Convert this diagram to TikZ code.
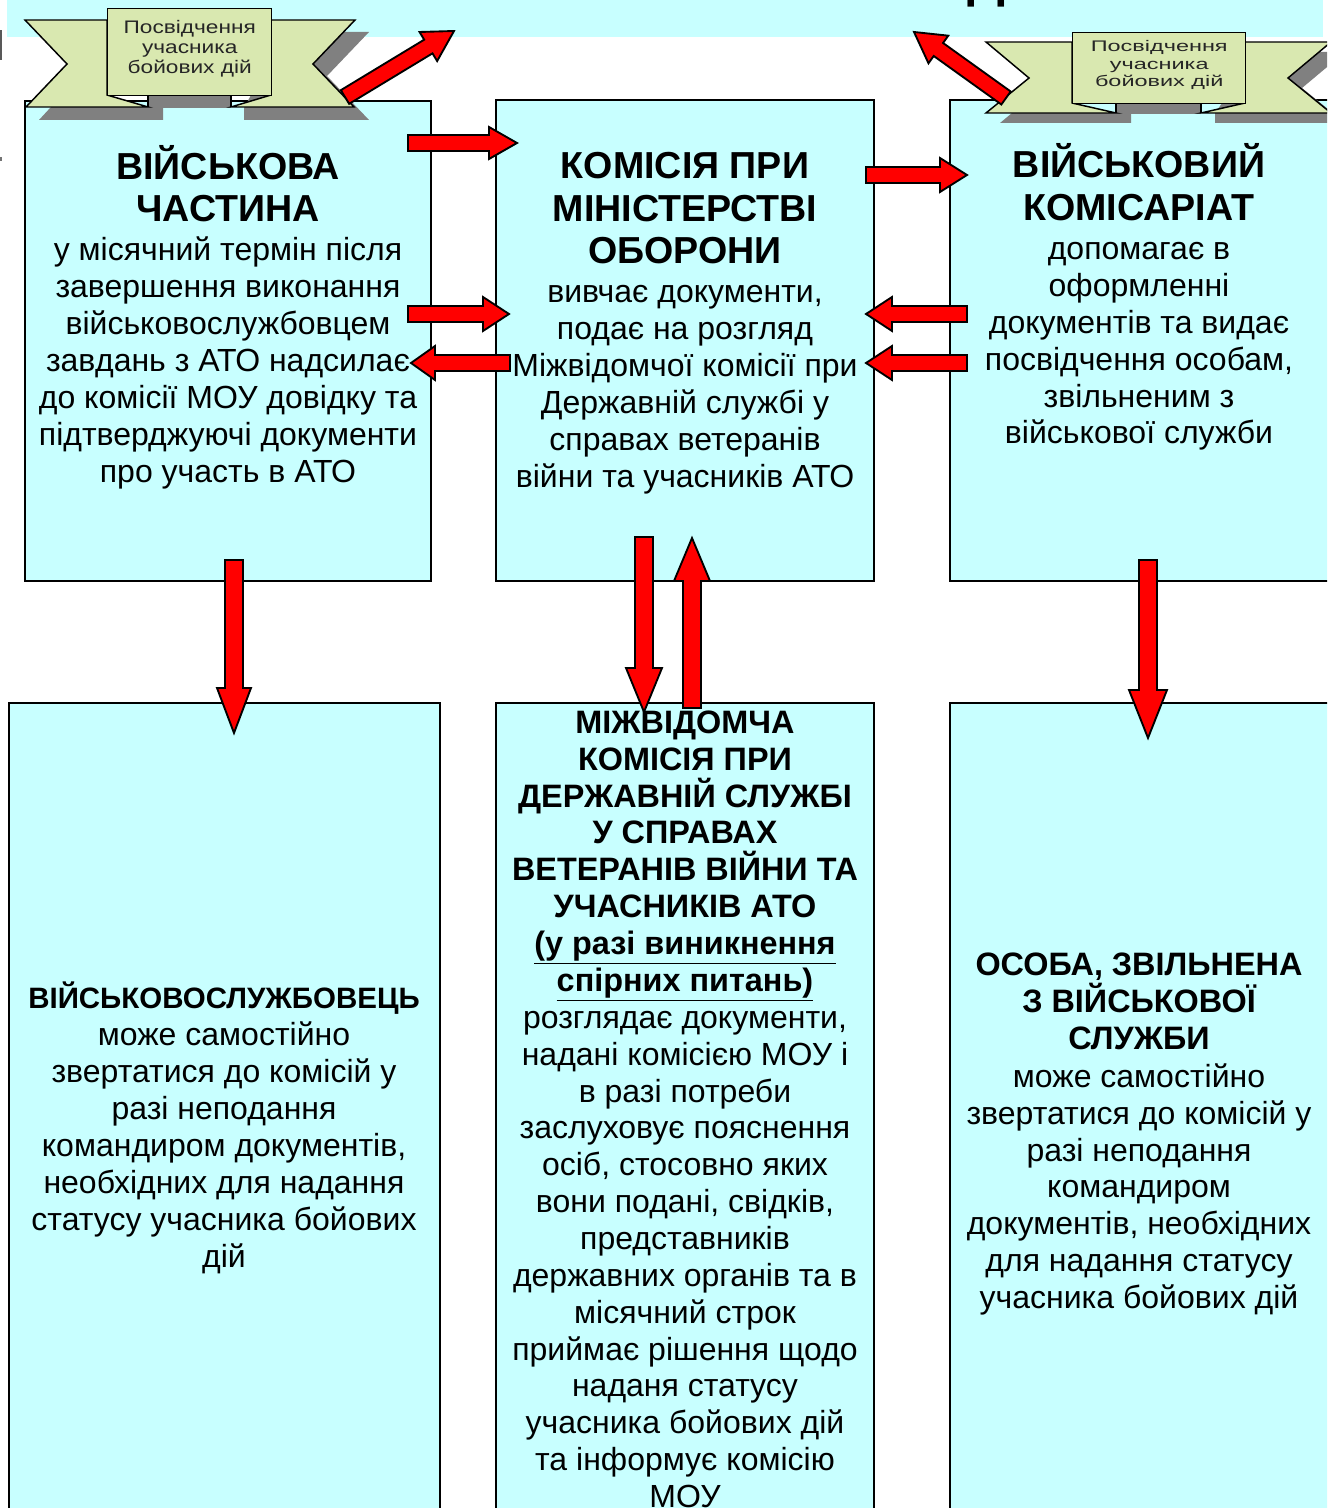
\documentclass[tikz,border=0pt]{standalone}
\usepackage{fontspec}
\setmainfont{Liberation Sans}
\usetikzlibrary{calc}
\definecolor{boxc}{HTML}{C8FFFF}
\definecolor{banc}{HTML}{D9E8B0}
\definecolor{shad}{HTML}{808080}
\newcommand{\hd}{\fontsize{28.2pt}{32pt}\bfseries\selectfont}
\newcommand{\bd}{\fontsize{24pt}{27.65pt}\mdseries\selectfont}
\newcommand{\bh}{\fontsize{22.1pt}{27.7pt}\bfseries\selectfont}
\newcommand{\bg}{\fontsize{24.3pt}{27.65pt}\bfseries\selectfont}
\newcommand{\ctr}[1]{\parbox[t]{420pt}{\centering #1\par}}
% block arrow from coordinate a to coordinate b: half shaft, head length, half head (px)
\newcommand{\blockarrow}[5]{%
  \path coordinate (hb) at ($(#2)!#4*0.75pt!(#1)$);
  \draw[arrowline]
    ($(#1)!#3*0.75pt!90:(#2)$) -- ($(hb)!#3*0.75pt!-90:(#1)$) -- ($(hb)!#5*0.75pt!-90:(#1)$) -- (#2)
    -- ($(hb)!#5*0.75pt!90:(#1)$) -- ($(hb)!#3*0.75pt!90:(#1)$) -- ($(#1)!#3*0.75pt!-90:(#2)$) -- cycle;}
\tikzset{
  boxnode/.style={draw=black,line width=1.5pt,fill=boxc,anchor=north west,inner sep=0pt,outer sep=0pt},
  txt/.style={anchor=north,inner sep=0pt,text=black},
  arrowline/.style={draw=black,line width=1.4pt,fill=red,line join=miter},
  bandfill/.style={draw=black,line width=1.1pt,fill=banc,line join=miter},
  shadowfill/.style={fill=shad,draw=none},
  bantext/.style={inner sep=0pt,text=black!85}
}
\begin{document}
\begin{tikzpicture}[x=0.75pt,y=-0.75pt]
\useasboundingbox (0,0) rectangle (1327,1508);
\clip (0,0) rectangle (1327,1508);
\fill[white] (0,0) rectangle (1327,1508);
% edge marks
\fill[black!65] (0,30) rectangle (2,60);
\fill[black!55] (0,157) rectangle (2,161);
% top band
\fill[boxc] (7,0) rectangle (1323,37);
\node[font=\fontsize{40pt}{40pt}\bfseries\selectfont,anchor=base,inner sep=0pt] (titlefoot) at (986,-3) {Д};
% boxes
\node[boxnode,minimum width=406*0.75pt,minimum height=480*0.75pt] (a) at (25,101) {};
\node[boxnode,minimum width=378*0.75pt,minimum height=481*0.75pt] (b) at (496,100) {};
\node[boxnode,minimum width=420*0.75pt,minimum height=481*0.75pt] (c) at (950,100) {};
\node[boxnode,minimum width=431*0.75pt,minimum height=830*0.75pt] (d) at (9,703) {};
\node[boxnode,minimum width=378*0.75pt,minimum height=830*0.75pt] (e) at (496,703) {};
\node[boxnode,minimum width=420*0.75pt,minimum height=830*0.75pt] (f) at (950,703) {};
% box texts
\node[txt] (ta) at (228,145) {\ctr{\hd ВІЙСЬКОВА\\ЧАСТИНА\\[1.5pt]\bd у місячний термін після\\завершення виконання\\військовослужбовцем\\завдань з АТО надсилає\\до комісії МОУ довідку та\\підтверджуючі документи\\про участь в АТО}};
\node[txt] (tb) at (685,152) {\ctr{\hd КОМІСІЯ ПРИ\\МІНІСТЕРСТВІ\\ОБОРОНИ\\[1.5pt]\bd вивчає документи,\\подає на розгляд\\Міжвідомчої комісії при\\Державній службі у\\справах ветеранів\\війни та учасників АТО}};
\node[txt] (tc) at (1139,143.5) {\ctr{\hd ВІЙСЬКОВИЙ\\КОМІСАРІАТ\\[1.7pt]\bd допомагає в\\оформленні\\документів та видає\\посвідчення особам,\\звільненим з\\військової служби}};
\node[txt] (td) at (224,982) {\ctr{\bh ВІЙСЬКОВОСЛУЖБОВЕЦЬ\\\bd може самостійно\\звертатися до комісій у\\разі неподання\\командиром документів,\\необхідних для надання\\статусу учасника бойових\\дій}};
\node[txt] (te) at (685,710.5) {\ctr{\bg МІЖВІДОМЧА\\КОМІСІЯ ПРИ\\ДЕРЖАВНІЙ СЛУЖБІ\\У СПРАВАХ\\ВЕТЕРАНІВ ВІЙНИ ТА\\УЧАСНИКІВ АТО\\\underline{(у разі виникнення}\\\underline{спірних питань)}\\\bd розглядає документи,\\надані комісією МОУ і\\в разі потреби\\заслуховує пояснення\\осіб, стосовно яких\\вони подані, свідків,\\представників\\державних органів та в\\місячний строк\\приймає рішення щодо\\наданя статусу\\учасника бойових дій\\та інформує комісію\\МОУ}};
\node[txt] (tf) at (1139,952.5) {\ctr{\bg ОСОБА, ЗВІЛЬНЕНА\\З ВІЙСЬКОВОЇ\\СЛУЖБИ\\[1pt]\bd може самостійно\\звертатися до комісій у\\разі неподання\\командиром\\документів, необхідних\\для надання статусу\\учасника бойових дій}};
% banner 1
\fill[shadowfill] (39,120) -- (163,120) -- (163,107) -- (51,107) -- cycle;
\begin{scope}[shift={(14,12)}]
\fill[shadowfill] (355,20) -- (271,20) -- (230,96) -- (230,108) -- (355,108) -- (313,64) -- cycle;
\end{scope}
\fill[shadowfill] (148,96) rectangle (231,108);
\draw[bandfill] (25,20) -- (107,20) -- (107,95) -- (148,107) -- (26,107) -- (67,64) -- cycle;
\draw[bandfill] (355,20) -- (271,20) -- (271,95) -- (231,107) -- (354,107) -- (313,64) -- cycle;
\draw[bandfill] (148,107) -- (148,95);
\draw[bandfill] (231,107) -- (231,95);
\node[bandfill,minimum width=164*0.75pt,minimum height=87*0.75pt,anchor=north west,inner sep=0pt] (r1) at (107,8) {};
\node[bantext] (t1) at ([yshift=2.9pt]r1.center) {\scalebox{1.25}[1]{\parbox{100pt}{\centering\fontsize{13.6pt}{15pt}\selectfont Посвідчення\\учасника\\бойових дій\par}}};
% banner 2
\fill[shadowfill] (1000,123) -- (1131,123) -- (1131,113) -- (1012,113) -- cycle;
\begin{scope}[shift={(14,10)}]
\fill[shadowfill] (1331,42) -- (1245,42) -- (1201,103) -- (1201,113) -- (1331,113) -- (1288,78) -- cycle;
\end{scope}
\fill[shadowfill] (1116,103) rectangle (1201,114);
\draw[bandfill] (986,42) -- (1072,42) -- (1072,103) -- (1116,113) -- (986,113) -- (1029,78) -- cycle;
\draw[bandfill] (1331,42) -- (1245,42) -- (1245,103) -- (1201,113) -- (1331,113) -- (1288,78) -- cycle;
\draw[bandfill] (1116,113) -- (1116,103);
\draw[bandfill] (1201,113) -- (1201,103);
\node[bandfill,minimum width=173*0.75pt,minimum height=71*0.75pt,anchor=north west,inner sep=0pt] (r2) at (1072,32) {};
\node[bantext] (t2) at ([yshift=2.2pt]r2.center) {\scalebox{1.53}[1]{\parbox{90pt}{\centering\fontsize{11.5pt}{13pt}\selectfont Посвідчення\\учасника\\бойових дій\par}}};
% arrow ends
\coordinate (s1) at (345,97); \coordinate (e1) at (454,31);
\coordinate (s2) at (408,143); \coordinate (e2) at (517,143);
\coordinate (s3) at (408,314); \coordinate (e3) at (509,314);
\coordinate (s4) at (510,363); \coordinate (e4) at (411,363);
\coordinate (s5) at (866,175); \coordinate (e5) at (967,175);
\coordinate (s6) at (967,314); \coordinate (e6) at (866,314);
\coordinate (s7) at (967,363); \coordinate (e7) at (866,363);
\coordinate (s8) at (644,537); \coordinate (e8) at (644,712);
\coordinate (s9) at (692,708); \coordinate (e9) at (692,538);
\coordinate (s10) at (234,560); \coordinate (e10) at (234,733);
\coordinate (s11) at (1148,560); \coordinate (e11) at (1148,738);
\coordinate (s12) at (1006,98); \coordinate (e12) at (914,32);
\blockarrow{s1}{e1}{8}{30}{17}
\blockarrow{s2}{e2}{8}{28}{16}
\blockarrow{s3}{e3}{8}{26}{17}
\blockarrow{s4}{e4}{8}{24}{17}
\blockarrow{s5}{e5}{8}{27}{17}
\blockarrow{s6}{e6}{8}{26}{17}
\blockarrow{s7}{e7}{8}{26}{17}
\blockarrow{s8}{e8}{9}{44}{18}
\blockarrow{s9}{e9}{9}{43}{18}
\blockarrow{s10}{e10}{9}{45}{17}
\blockarrow{s11}{e11}{9}{48}{19}
\blockarrow{s12}{e12}{8}{30}{17}
\end{tikzpicture}
\end{document}
